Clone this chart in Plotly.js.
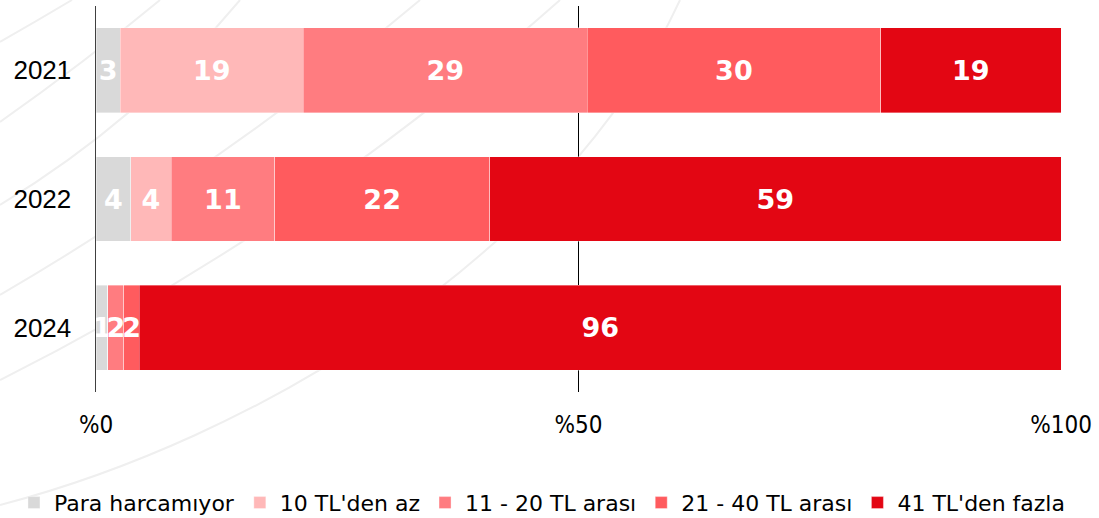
<!DOCTYPE html>
<html>
<head>
<meta charset="utf-8">
<script src="https://cdn.plot.ly/plotly-3.0.1.min.js"></script>
<style>
  html, body { margin: 0; padding: 0; background: #ffffff; }
  #wrap { position: relative; width: 1099px; height: 518px; overflow: hidden; }
  #deco { position: absolute; left: 0; top: 0; }
  #chart { position: absolute; left: 0; top: 0; width: 1099px; height: 518px; }
</style>
</head>
<body>
<div id="wrap">
  <svg id="deco" width="1099" height="518" viewBox="0 0 1099 518">
    <g fill="none" stroke="#efefef" stroke-width="2">
      <path d="M0,42 Q35,22 72,0"/>
      <path d="M0,122 Q85,62 160,0"/>
      <path d="M0,205 Q140,120 240,0"/>
      <path d="M0,295 Q230,160 420,0"/>
      <path d="M0,380 Q300,230 560,0"/>
      <path d="M0,505 C250,440 560,260 680,0"/>
    </g>
  </svg>
  <div id="chart"></div>
</div>
<script>
// ---- data ----
const years = ['2021', '2022', '2024'];
const seriesNames = ['Para harcamıyor', "10 TL'den az", '11 - 20 TL arası', '21 - 40 TL arası', "41 TL'den fazla"];
const paraHarcamiyor = [2.5, 3.6, 1.2];
const tl10denAz     = [19.0, 4.2, 0];
const tl11to20      = [29.4, 10.7, 1.7];
const tl21to40      = [30.4, 22.3, 1.6];
const tl41denFazla  = [18.7, 59.2, 95.5];
const xTickVals = [0, 50, 100];
const xTickText = ['%0', '%50', '%100'];

const seriesValues = [paraHarcamiyor, tl10denAz, tl11to20, tl21to40, tl41denFazla];
const colors = ['#D9D9D9', '#FFB8B8', '#FF7C80', '#FF5B5E', '#E30613'];

const traces = seriesValues.map((vals, i) => ({
  type: 'bar',
  orientation: 'h',
  name: seriesNames[i],
  y: years,
  x: vals,
  text: vals.map(v => v > 0 ? String(Math.round(v)) : ''),
  textposition: 'inside',
  insidetextanchor: 'middle',
  textangle: 0,
  constraintext: 'none',
  textfont: { family: 'DejaVu Sans', size: 27, color: '#ffffff', weight: 'bold' },
  marker: { color: colors[i], line: { width: 0.8, color: 'rgba(255,255,255,0.45)' } },
  hoverinfo: 'skip'
}));

const layout = {
  width: 1099,
  height: 518,
  barmode: 'stack',
  bargap: 0.34,
  paper_bgcolor: 'rgba(0,0,0,0)',
  plot_bgcolor: 'rgba(0,0,0,0)',
  margin: { l: 96, r: 38, t: 6, b: 126, pad: 0, autoexpand: false },
  showlegend: true,
  legend: {
    orientation: 'h',
    x: -0.085, xanchor: 'left',
    y: -0.287, yanchor: 'middle',
    traceorder: 'normal',
    font: { family: 'DejaVu Sans', size: 22, color: '#000000' },
    bgcolor: 'rgba(0,0,0,0)',
    itemclick: false, itemdoubleclick: false
  },
  xaxis: {
    range: [0, 100],
    tickvals: xTickVals,
    ticktext: xTickText,
    showgrid: true,
    gridcolor: '#000000',
    gridwidth: 1,
    zeroline: false,
    showline: false,
    ticks: '',
    ticklabelstandoff: 16,
    tickfont: { family: 'DejaVu Sans Condensed, Liberation Sans', size: 24, color: '#000000' },
    fixedrange: true
  },
  yaxis: {
    type: 'category',
    autorange: 'reversed',
    showgrid: false,
    zeroline: false,
    showline: true,
    linecolor: '#404040',
    linewidth: 1.5,
    ticks: '',
    ticklabelstandoff: 18,
    tickfont: { family: 'Liberation Sans', size: 26, color: '#000000' },
    fixedrange: true
  }
};

Plotly.newPlot('chart', traces, layout, { displayModeBar: false, staticPlot: true });
</script>
</body>
</html>
